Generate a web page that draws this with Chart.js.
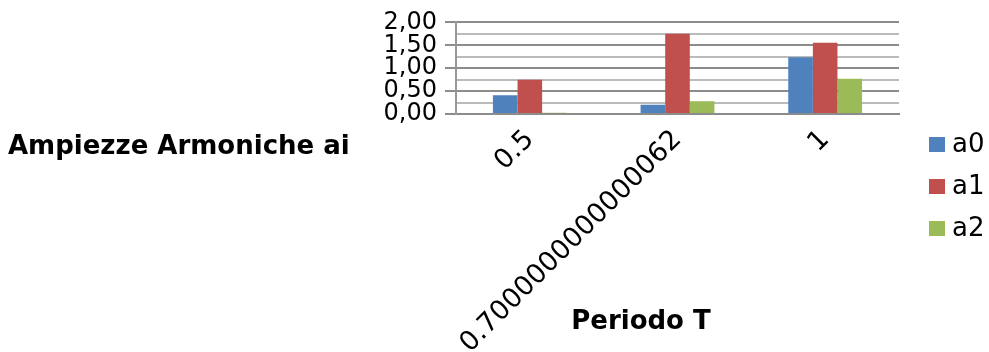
<!DOCTYPE html>
<html>
<head>
<meta charset="utf-8">
<script src="https://cdn.jsdelivr.net/npm/chart.js@4/dist/chart.umd.min.js"></script>
<style>
  html, body { margin: 0; padding: 0; background: #fff; }
  #wrap { width: 989px; height: 352px; }
</style>
</head>
<body>
<div id="wrap"><canvas id="myChart" width="989" height="352"></canvas></div>
<script>
// values
var categories = ['0.5', '0.7000000000000062', '1']
var seriesNames = ['a0', 'a1', 'a2']
var a0 = [0.41, 0.20, 1.24]
var a1 = [0.75, 1.75, 1.555]
var a2 = [0.03, 0.28, 0.77]
var yTicks = [0, 0.5, 1, 1.5, 2]
var yTitle = 'Ampiezze Armoniche ai'
var xTitle = 'Periodo T'

var colors = ['#4f81bd', '#c0504d', '#9bbb59']
var FONT = '"DejaVu Sans", sans-serif'

Chart.defaults.font.family = FONT
Chart.defaults.color = '#000'

// titles + legend drawn by hand (horizontal axis title on the left like Excel)
var extras = {
  id: 'extras',
  afterDraw: function(chart) {
    var c = chart.ctx
    c.save()
    c.fillStyle = '#000'
    c.textBaseline = 'middle'
    c.font = 'bold 26px ' + FONT
    c.textAlign = 'left'
    c.fillText(yTitle, 8, 147)
    c.textAlign = 'center'
    c.fillText(xTitle, 641, 322)

    // legend
    c.font = '26px ' + FONT
    c.textAlign = 'left'
    chart.data.datasets.forEach(function(ds, i) {
      var y = 145 + i * 42
      c.fillStyle = ds.backgroundColor
      c.fillRect(929, y - 8, 16, 15)
      c.fillStyle = '#000'
      c.fillText(ds.label, 952, y)
    })
    c.restore()
  }
}

var ctxx = document.getElementById('myChart').getContext('2d')
var chart = new Chart(ctxx, {
  type: 'bar',
  data: {
    labels: categories,
    datasets: [
      { label: seriesNames[0], data: a0, backgroundColor: colors[0] },
      { label: seriesNames[1], data: a1, backgroundColor: colors[1] },
      { label: seriesNames[2], data: a2, backgroundColor: colors[2] }
    ]
  },
  options: {
    responsive: false,
    animation: false,
    devicePixelRatio: 1,
    layout: { padding: { top: 20, right: 90, bottom: 0, left: 0 } },
    datasets: { bar: { categoryPercentage: 0.5, barPercentage: 1.0 } },
    plugins: { legend: { display: false }, tooltip: { enabled: false } },
    scales: {
      x: {
        grid: { display: false, drawTicks: false },
        border: { display: true, color: '#8c8c8c', width: 2 },
        ticks: { font: { size: 27 }, maxRotation: 45, minRotation: 45, padding: 10, autoSkip: false },
        afterFit: function(s) { s.height = 238 }
      },
      y: {
        min: 0, max: 2,
        afterBuildTicks: function(s) { s.ticks = yTicks.map(function(v) { return { value: v } }) },
        ticks: {
          font: { size: 24 }, padding: 8, autoSkip: false,
          callback: function(v) { return v.toFixed(2).replace('.', ',') }
        },
        grid: { color: '#8c8c8c', lineWidth: 2, tickLength: 11 },
        border: { color: '#999', width: 2 },
        afterFit: function(s) { s.width = 456 }
      },
      y2: {
        position: 'left',
        min: 0, max: 2,
        ticks: { display: false, stepSize: 0.25, autoSkip: false },
        grid: {
          drawTicks: false,
          lineWidth: 2,
          color: function(c) { return (c.tick && Math.abs(c.tick.value * 2 - Math.round(c.tick.value * 2)) > 1e-6) ? '#bbbbbb' : 'rgba(0,0,0,0)' }
        },
        border: { display: false },
        afterFit: function(s) { s.width = 0 }
      }
    }
  },
  plugins: [extras]
})
</script>
</body>
</html>
